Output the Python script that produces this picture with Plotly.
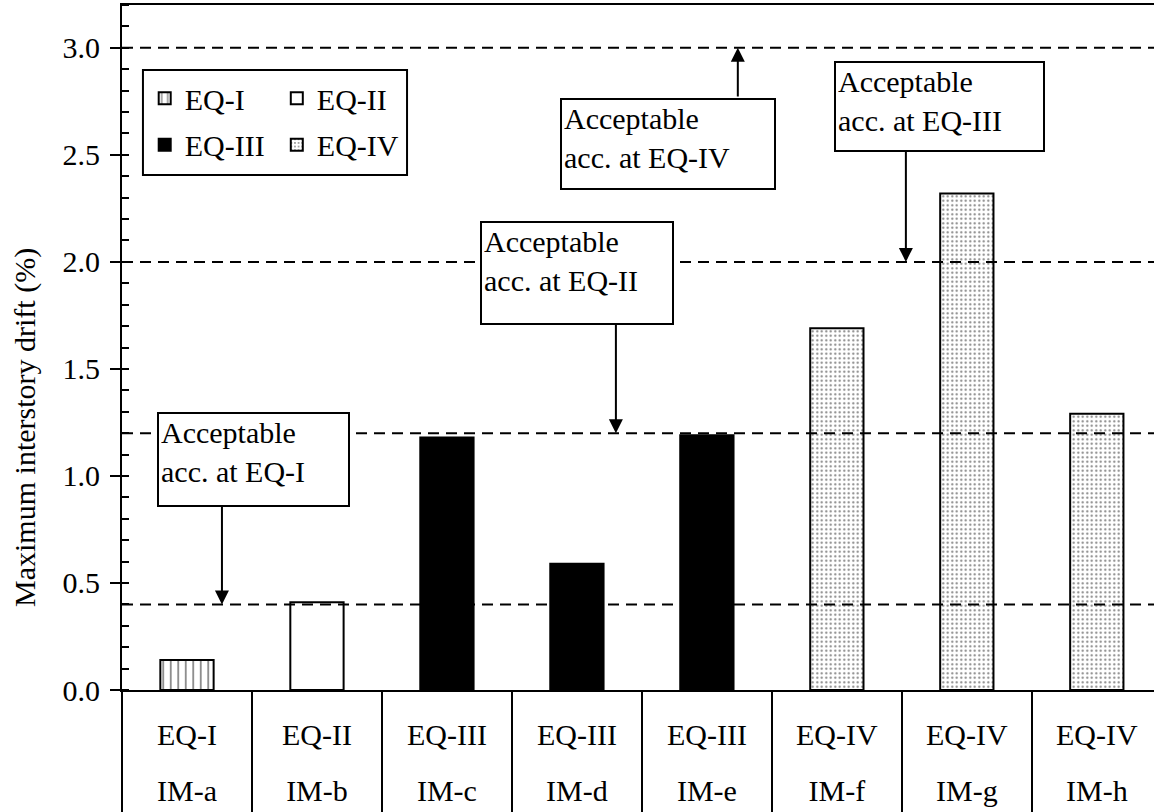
import plotly.graph_objects as go

# data
im_labels = ['IM-a', 'IM-b', 'IM-c', 'IM-d', 'IM-e', 'IM-f', 'IM-g', 'IM-h']
eq_labels = ['EQ-I', 'EQ-II', 'EQ-III', 'EQ-III', 'EQ-III', 'EQ-IV', 'EQ-IV', 'EQ-IV']
drift = [0.14, 0.41, 1.18, 0.59, 1.19, 1.69, 2.32, 1.29]

eq_levels = ['EQ-I', 'EQ-II', 'EQ-III', 'EQ-IV']
drift_limits = [0.4, 1.2, 2.0, 3.0]
limit_texts = ['Acceptable<br>acc. at EQ-I', 'Acceptable<br>acc. at EQ-II',
               'Acceptable<br>acc. at EQ-III', 'Acceptable<br>acc. at EQ-IV']

FONT = 'Liberation Serif'
FS = 30

styles = {
    'EQ-I': dict(color='white', pattern=dict(shape='|', fgcolor='black', bgcolor='white', size=7.5, solidity=0.22)),
    'EQ-II': dict(color='white'),
    'EQ-III': dict(color='black'),
    'EQ-IV': dict(color='white', pattern=dict(shape='.', fgcolor='black', bgcolor='white', size=4.5, solidity=0.18)),
}
legend_ids = ['legend', 'legend2', 'legend3', 'legend4']
# legend placement (paper coords): column / row
legend_pos = [(0.022, 0.864), (0.150, 0.864), (0.022, 0.796), (0.150, 0.796)]

fig = go.Figure()
for k, level in enumerate(eq_levels):
    xs = [im for im, eq in zip(im_labels, eq_labels) if eq == level]
    ys = [d for d, eq in zip(drift, eq_labels) if eq == level]
    fig.add_trace(go.Bar(name=level, x=xs, y=ys, width=0.41,
                         marker=dict(**styles[level], line=dict(color='black', width=2)),
                         legend=legend_ids[k]))

# invisible helpers so the overlay axes (table lines, second label row) get drawn
fig.add_trace(go.Scatter(x=im_labels, y=drift, xaxis='x2', mode='markers',
                         marker=dict(opacity=0), showlegend=False, hoverinfo='skip'))
fig.add_trace(go.Scatter(x=im_labels, y=drift, xaxis='x3', yaxis='y2', mode='markers',
                         marker=dict(opacity=0), showlegend=False, hoverinfo='skip'))

for v in drift_limits:
    fig.add_hline(y=v, line=dict(color='black', width=2, dash='11px,7px'))

# boxes: left (category units), top (data), width px, height px  -- same order as drift_limits
boxes = [(-0.231, 1.30, 191, 93), (2.254, 2.19, 192, 102), (4.977, 2.939, 209, 89), (2.869, 2.766, 214, 90)]
# arrows: x (category units), tail y
arrows = [(0.269, 0.864), (3.30, 1.715), (5.531, 2.523), (4.238, 2.766)]

for txt, (bx, by, bw, bh), (axx, ty), lim in zip(limit_texts, boxes, arrows, drift_limits):
    fig.add_annotation(x=axx, y=lim, ax=axx, ay=ty, axref='x', ayref='y', text='',
                       showarrow=True, arrowhead=2, arrowsize=1.4, arrowwidth=2,
                       arrowcolor='black', standoff=0, startstandoff=0)
    fig.add_annotation(x=bx, y=by, xanchor='left', yanchor='top', text=txt, showarrow=False,
                       align='left', valign='top', width=bw - 6, height=bh - 6,
                       bgcolor='white', bordercolor='black', borderwidth=2, borderpad=2,
                       font=dict(size=FS, family=FONT, color='black'))

fig.add_annotation(text='Maximum interstory drift (%)', xref='paper', yref='paper',
                   x=-0.094, y=0.384, xanchor='center', yanchor='middle', textangle=-90,
                   showarrow=False, font=dict(size=FS, family=FONT, color='black'))

# legend frame
fig.add_shape(type='rect', xref='paper', yref='paper', x0=0.0203, x1=0.2762, y0=0.7518, y1=0.9051,
              line=dict(color='black', width=2), fillcolor='rgba(0,0,0,0)')

legends = {}
for lid, (lx, ly) in zip(legend_ids, legend_pos):
    legends[lid] = dict(x=lx, y=ly, xanchor='left', yanchor='middle', bgcolor='rgba(0,0,0,0)',
                        borderwidth=0, font=dict(size=FS, family=FONT, color='black'))

cat_axis = dict(type='category', categoryorder='array', categoryarray=im_labels,
                range=[-0.5, 7.44], showgrid=False, zeroline=False, automargin=False)

fig.update_layout(
    width=1154, height=812,
    margin=dict(l=122, r=0, t=5, b=122, autoexpand=False),
    barmode='overlay',
    plot_bgcolor='white', paper_bgcolor='white',
    font=dict(family=FONT, size=FS, color='black'),
    hovermode=False,
    xaxis=dict(**cat_axis, tickmode='array', tickvals=im_labels, ticktext=eq_labels, ticks='',
               showline=True, linewidth=2, linecolor='black', mirror=True,
               tickfont=dict(size=FS), ticklabelstandoff=17),
    xaxis2=dict(**cat_axis, overlaying='x', anchor='y', tickson='boundaries', ticks='outside',
                ticklen=125, tickwidth=2, tickcolor='black', showticklabels=False, showline=False),
    xaxis3=dict(**cat_axis, overlaying='x', anchor='y', ticks='', showline=False,
                tickfont=dict(size=FS), ticklabelstandoff=80),
    yaxis=dict(range=[0, 3.2], tick0=0, dtick=0.5, tickformat='.1f', ticks='outside', ticklen=10,
               tickwidth=2, tickcolor='black', showline=True, linewidth=2, linecolor='black',
               showgrid=False, zeroline=False, tickfont=dict(size=FS), ticklabelstandoff=4,
               automargin=False,
               minor=dict(dtick=0.1, ticks='inside', ticklen=7, tickwidth=2, tickcolor='black', showgrid=False)),
    yaxis2=dict(range=[0, 3.2], tick0=0, dtick=0.5, overlaying='y', anchor='x', side='left',
                ticks='inside', ticklen=7, tickwidth=2, tickcolor='black', showticklabels=False,
                showline=False, showgrid=False, zeroline=False, automargin=False),
    **legends,
)

# drop the browser's default 8px body margin so the figure sits at the page origin
fig.write_html("out.html", config={'displayModeBar': False},
               post_script="document.body.style.margin='0';")
